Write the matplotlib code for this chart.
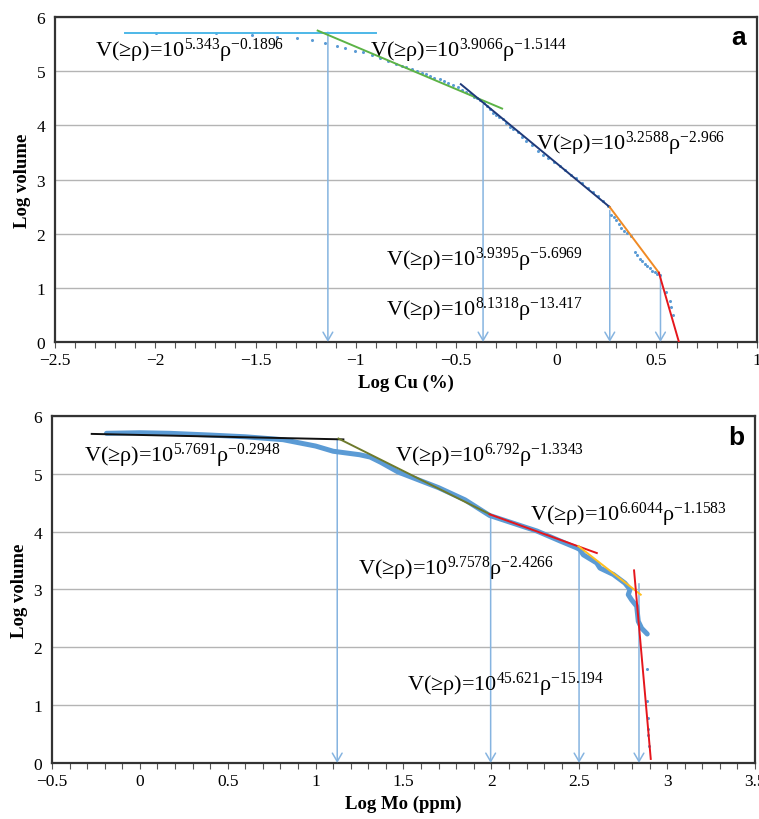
import matplotlib
matplotlib.use('Agg')
import matplotlib.pyplot as plt
from matplotlib.ticker import MultipleLocator, FuncFormatter

plt.rcParams['font.family'] = ['Liberation Serif', 'DejaVu Serif']
plt.rcParams['mathtext.fontset'] = 'custom'
plt.rcParams['mathtext.rm'] = 'Liberation Serif'
plt.rcParams['mathtext.it'] = 'Liberation Serif:italic'
plt.rcParams['mathtext.bf'] = 'Liberation Serif:bold'

# ---- Cu: cumulative volume vs grade (log-log)
cu_log = [-1.997, -1.697, -1.52, -1.395, -1.295, -1.217, -1.154, -1.093, -1.054, -1.004,
          -0.963, -0.92, -0.88, -0.84, -0.80, -0.77, -0.747, -0.72, -0.697, -0.67,
          -0.65, -0.631, -0.61, -0.581, -0.56, -0.54, -0.514, -0.49, -0.47, -0.45,
          -0.431, -0.41, -0.395, -0.381, -0.36, -0.345, -0.332, -0.315, -0.30, -0.285,
          -0.265, -0.25, -0.232, -0.215, -0.19, -0.17, -0.149, -0.12, -0.09, -0.066,
          -0.04, -0.01, 0.017, 0.045, 0.075, 0.101, 0.13, 0.16, 0.184, 0.21,
          0.235, 0.258, 0.275, 0.287, 0.300, 0.312, 0.325, 0.340, 0.355, 0.375,
          0.391, 0.404, 0.416, 0.43, 0.441, 0.455, 0.466, 0.48, 0.491, 0.505,
          0.516, 0.549, 0.566, 0.574, 0.582]
cu_vol = [5.70, 5.70, 5.67, 5.64, 5.61, 5.57, 5.52, 5.47, 5.42, 5.38,
          5.35, 5.30, 5.25, 5.19, 5.14, 5.10, 5.07, 5.04, 5.01, 4.97,
          4.94, 4.91, 4.88, 4.85, 4.82, 4.79, 4.75, 4.70, 4.66, 4.62,
          4.57, 4.53, 4.50, 4.47, 4.41, 4.36, 4.31, 4.22, 4.19, 4.16,
          4.12, 4.05, 3.97, 3.93, 3.88, 3.79, 3.71, 3.63, 3.53, 3.46,
          3.39, 3.32, 3.25, 3.18, 3.09, 3.02, 2.94, 2.84, 2.77, 2.69,
          2.61, 2.52, 2.34, 2.30, 2.25, 2.18, 2.10, 2.05, 2.02, 1.95,
          1.67, 1.60, 1.54, 1.49, 1.44, 1.40, 1.36, 1.32, 1.29, 1.26,
          1.23, 0.92, 0.76, 0.64, 0.49]

# fitted segments: (x0, x1), (y0, y1), colour
cu_fits = [((-2.15, -0.90), (5.70, 5.70), '#4db8e8'),
           ((-1.19, -0.27), (5.75, 4.31), '#5cb346'),
           ((-0.476, 0.267), (4.76, 2.49), '#1f3a7a'),
           ((0.267, 0.512), (2.49, 1.28), '#f08a24'),
           ((0.512, 0.612), (1.28, 0.0), '#e5161c')]
cu_breaks = [-1.139, -0.365, 0.267, 0.52]
cu_break_top = [5.72, 4.38, 2.43, 1.23]
cu_labels = [('5.343', '0.1896'), ('3.9066', '1.5144'), ('3.2588', '2.966'),
             ('3.9395', '5.6969'), ('8.1318', '13.417')]

# ---- Mo
mo_log = [-0.19, 0.0, 0.17, 0.4, 0.6, 0.815, 1.0, 1.1, 1.25, 1.31, 1.37, 1.47,
          1.7, 1.85, 1.99, 2.26, 2.39, 2.485, 2.504, 2.523, 2.599, 2.618, 2.694,
          2.76, 2.789, 2.779, 2.798, 2.827, 2.836, 2.855, 2.887]
mo_vol = [5.70, 5.71, 5.70, 5.67, 5.64, 5.59, 5.48, 5.39, 5.33, 5.29, 5.20, 5.03,
          4.76, 4.55, 4.28, 4.01, 3.84, 3.72, 3.69, 3.60, 3.46, 3.37, 3.26,
          3.11, 3.00, 2.91, 2.82, 2.71, 2.45, 2.33, 2.23]
mo_tail_log = [2.887, 2.887, 2.893, 2.893, 2.893, 2.897]
mo_tail_vol = [1.62, 1.07, 0.77, 0.59, 0.48, 0.30]

mo_fits = [((-0.274, 1.158), (5.69, 5.595), '#111111'),
           ((1.13, 1.992), (5.61, 4.30), '#6e7a2c'),
           ((1.99, 2.60), (4.30, 3.63), '#e5161c'),
           ((2.495, 2.85), (3.75, 2.91), '#ffbf1f'),
           ((2.812, 2.907), (3.33, 0.07), '#e5161c')]
mo_breaks = [1.123, 1.996, 2.499, 2.840]
mo_break_top = [5.60, 4.28, 3.75, 3.10]
mo_labels = [('5.7691', '0.2948'), ('6.792', '1.3343'), ('6.6044', '1.1583'),
             ('9.7578', '2.4266'), ('45.621', '15.194')]

DOT = '#5b9bd5'
ARROW = '#86b4e0'


def power_law(a, b):
    return f'V(≥ρ)=10$^{{{a}}}$ρ$^{{-{b}}}$'


def style_axes(ax, xlim, xlabel, letter):
    ax.set_xlim(*xlim)
    ax.set_ylim(0, 6)
    ax.xaxis.set_major_locator(MultipleLocator(0.5))
    ax.xaxis.set_minor_locator(MultipleLocator(0.1))
    ax.yaxis.set_major_locator(MultipleLocator(1))
    ax.xaxis.set_major_formatter(FuncFormatter(lambda v, p: f'{v:g}'.replace('-', '\u2212')))
    ax.grid(axis='y', color='#b4b4b4', lw=1)
    ax.set_axisbelow(True)
    ax.tick_params(axis='x', which='both', direction='out', length=4, width=0.8,
                   color='#555555', labelsize=12.5, pad=3)
    ax.tick_params(axis='y', length=0, labelsize=12.5, pad=7)
    for s in ax.spines.values():
        s.set_linewidth(1.6)
        s.set_color('#333333')
    ax.set_xlabel(xlabel, fontsize=13.5, fontweight='bold', labelpad=4)
    ax.set_ylabel('Log volume', fontsize=13.5, fontweight='bold', labelpad=4)
    ax.text(0.985, 0.975, letter, transform=ax.transAxes, ha='right', va='top',
            fontsize=19, fontweight='bold', family='Liberation Sans')


def draw_breaks(ax, xs, tops):
    for x, top in zip(xs, tops):
        ax.annotate('', xy=(x, 0), xytext=(x, top),
                    arrowprops=dict(arrowstyle='->,head_width=0.35,head_length=0.6',
                                    color=ARROW, lw=1.1, shrinkA=0, shrinkB=0),
                    annotation_clip=False)


fig = plt.figure(figsize=(7.59, 8.20), dpi=100)
ax_a = fig.add_axes([0.0725, 0.5817, 0.9245, 0.3963])
ax_b = fig.add_axes([0.0685, 0.0683, 0.9262, 0.4232])

# panel a
style_axes(ax_a, (-2.5, 1), 'Log Cu (%)', 'a')
draw_breaks(ax_a, cu_breaks, cu_break_top)
ax_a.plot(cu_log, cu_vol, 'o', ms=2.2, color=DOT, mec='none', zorder=3)
for xs, ys, c in cu_fits:
    ax_a.plot(xs, ys, color=c, lw=1.4, zorder=4)
cu_text_pos = [(-2.30, 5.39), (-0.93, 5.39), (-0.10, 3.67), (-0.85, 1.54), (-0.85, 0.61)]
for (a, b), (x, y) in zip(cu_labels, cu_text_pos):
    ax_a.text(x, y, power_law(a, b), fontsize=16, ha='left', va='center', zorder=5)

# panel b
style_axes(ax_b, (-0.5, 3.5), 'Log Mo (ppm)', 'b')
draw_breaks(ax_b, mo_breaks, mo_break_top)
ax_b.plot(mo_log, mo_vol, color=DOT, lw=3.6, solid_capstyle='round', zorder=3)
ax_b.plot(mo_tail_log, mo_tail_vol, 'o', ms=2.2, color=DOT, mec='none', zorder=3)
for xs, ys, c in mo_fits:
    ax_b.plot(xs, ys, color=c, lw=1.4, zorder=4)
mo_text_pos = [(-0.32, 5.32), (1.45, 5.32), (2.22, 4.30), (1.24, 3.37), (1.52, 1.36)]
for (a, b), (x, y) in zip(mo_labels, mo_text_pos):
    ax_b.text(x, y, power_law(a, b), fontsize=16, ha='left', va='center', zorder=5)

fig.savefig('out.png', dpi=100)
